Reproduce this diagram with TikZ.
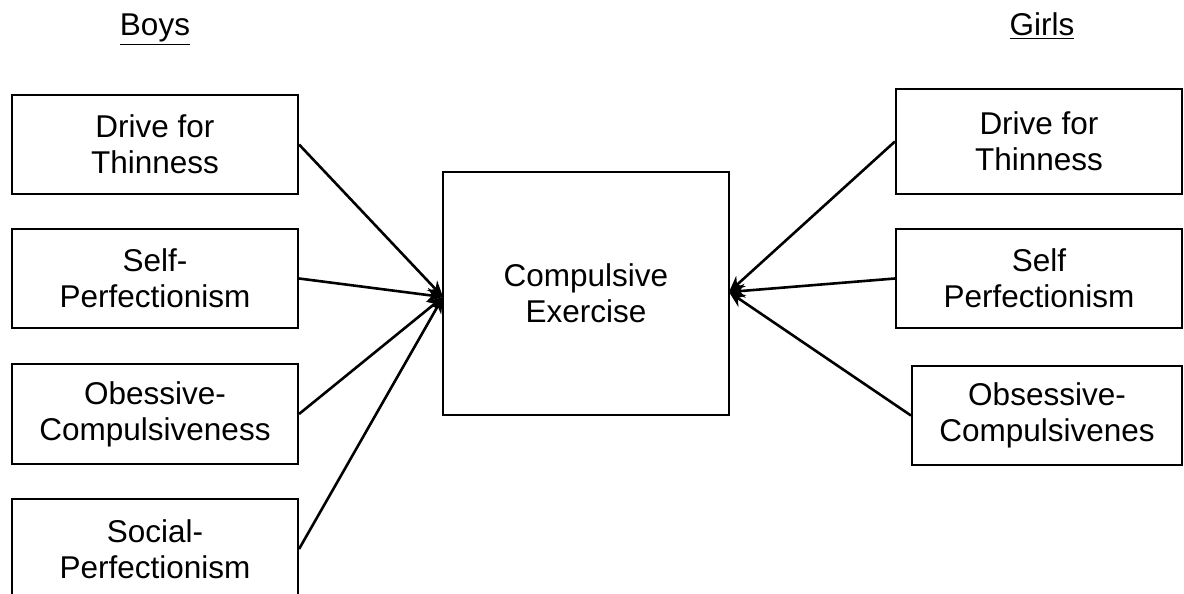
\documentclass[tikz,border=0pt]{standalone}
\usepackage{fontspec}
\setmainfont{Liberation Sans}
\usetikzlibrary{arrows.meta}
\begin{document}
\begin{tikzpicture}[x=1pt,y=-1pt,
  varbox/.style={draw,line width=2.1pt,rectangle,align=center,inner sep=0pt,
    font=\fontsize{31.5}{36}\selectfont},
  grouplabel/.style={font=\fontsize{31.5}{36}\selectfont,inner sep=0pt},
  link/.style={line width=2.6pt,-{Stealth[length=16pt,width=14pt]}}]
\useasboundingbox (0,0) rectangle (1184,594);
\clip (0,0) rectangle (1184,594);
% group headings
\node[grouplabel,anchor=base] (boys) at (155,36) {\underline{Boys}};
\node[grouplabel,anchor=base] (girls) at (1042,36) {\underline{Girls}};
% outcome
\node[varbox,minimum width=286pt,minimum height=243pt] (ce) at (586,293.5) {Compulsive\\Exercise};
% predictors for boys
\node[varbox,minimum width=286pt,minimum height=99pt] (b1) at (155,144.5) {Drive for\\Thinness};
\node[varbox,minimum width=286pt,minimum height=99pt] (b2) at (155,278.5) {Self-\\Perfectionism};
\node[varbox,minimum width=286pt,minimum height=100pt] (b3) at (155,414) {Obessive-\\Compulsiveness};
\node[varbox,minimum width=286pt,minimum height=100pt] (b4) at (155,549) {Social-\\Perfectionism};
% predictors for girls
\node[varbox,minimum width=286pt,minimum height=105pt] (g1) at (1039,141.5) {Drive for\\Thinness};
\node[varbox,minimum width=286pt,minimum height=99pt] (g2) at (1039,278.5) {Self\\Perfectionism};
\node[varbox,minimum width=270pt,minimum height=99pt] (g3) at (1047,415.5) {Obsessive-\\Compulsivenes};
% arrow targets on the outcome box
\coordinate (inL) at (443,297);
\coordinate (inR) at (729,292);
% paths
\draw[link] (b1.east) -- (inL);
\draw[link] (b2.east) -- (inL);
\draw[link] (b3.east) -- (inL);
\draw[link] (b4.east) -- (inL);
\draw[link] (g1.west) -- (inR);
\draw[link] (g2.west) -- (inR);
\draw[link] (g3.west) -- (inR);
\end{tikzpicture}
\end{document}
